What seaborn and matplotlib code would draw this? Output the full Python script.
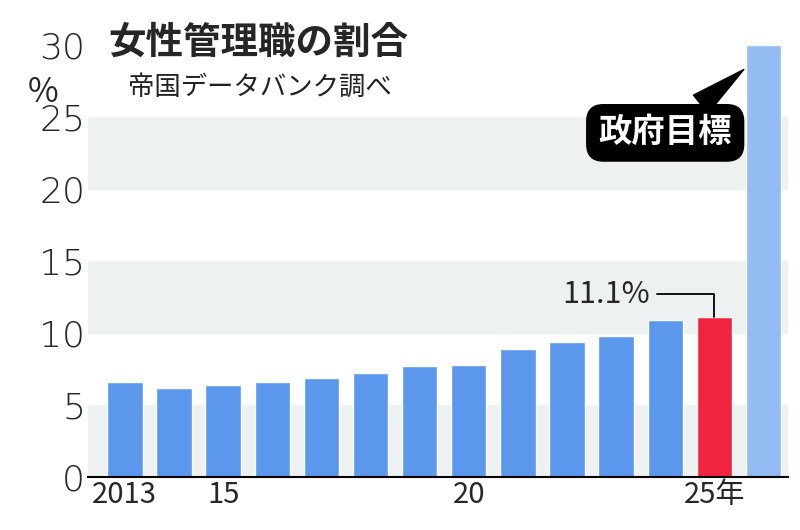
import matplotlib
matplotlib.use("Agg")
import matplotlib.pyplot as plt
import seaborn as sns
import pandas as pd

years = ["2013","2014","2015","2016","2017","2018","2019","2020","2021","2022","2023","2024","2025","目標"]
values = [6.6,6.2,6.4,6.6,6.9,7.2,7.7,7.8,8.9,9.4,9.8,10.9,11.1,30]
tick_labels = ["2013","","15","","","","","20","","","","","25年",""]

sns.set_theme(style="white")
plt.rcParams['font.family'] = ['Noto Sans CJK JP', 'DejaVu Sans']

df = pd.DataFrame({"year": years, "value": values})
colors = ["#5b97ec"]*12 + ["#f0243f", "#93bcf2"]

fig = plt.figure(figsize=(8, 5.3), dpi=100)
ax = fig.add_axes([0.11, 0.1, 0.875, 0.815])
for lo in (0, 10, 20):
    ax.axhspan(lo, lo+5, color="#eef1f1", zorder=0)
sns.barplot(data=df, x="year", y="value", hue="year", palette=colors, legend=False,
            width=0.72, ax=ax, zorder=2, saturation=1)
ax.set_ylim(0, 30)
ax.set_xlim(-0.75, 13.5)
ax.set_yticks([0,5,10,15,20,25,30])
ax.set_yticklabels(["0","5","10","15","20","25","30"], fontsize=26,
                   family=['DejaVu Sans'], fontweight="light")
ax.set_xticks(range(len(years)))
ax.set_xticklabels(tick_labels, fontsize=21)
ax.tick_params(axis="both", length=0, pad=2)
ax.set_xlabel(""); ax.set_ylabel("")
for s in ["top", "right", "left"]:
    ax.spines[s].set_visible(False)
ax.spines["bottom"].set_color("black")
ax.spines["bottom"].set_linewidth(1.5)

fig.text(0.035, 0.825, "%", fontsize=24, ha="left", va="center")
fig.text(0.135, 0.92, "女性管理職の割合", fontsize=27, fontweight="bold", va="center")
fig.text(0.16, 0.835, "帝国データバンク調べ", fontsize=19, va="center", color="#222")

ax.annotate("11.1%", xy=(12, values[12]), xytext=(10.7, 12.7), fontsize=22,
            ha="right", va="center",
            arrowprops=dict(arrowstyle="-", color="black", lw=1.3,
                            connectionstyle="angle,angleA=0,angleB=90,rad=0",
                            shrinkA=2, shrinkB=0))
ax.annotate("政府目標", xy=(12.6, 28.3), xytext=(11.0, 23.9), fontsize=24, color="white",
            fontweight="bold", ha="center", va="center",
            bbox=dict(boxstyle="round,pad=0.35,rounding_size=0.5", fc="black", ec="black"),
            arrowprops=dict(arrowstyle="wedge,tail_width=0.7", fc="black", ec="black",
                            shrinkA=0, shrinkB=0))
fig.savefig("out.png", dpi=100)
